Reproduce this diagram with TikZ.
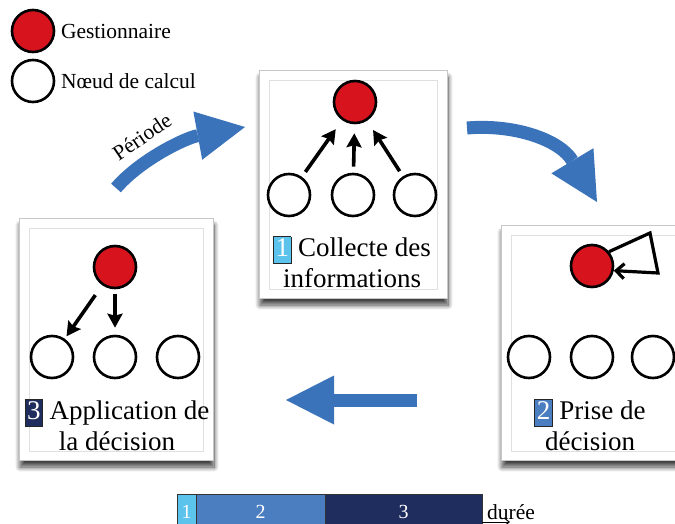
\documentclass[tikz,border=0pt]{standalone}
\usepackage{fontspec}
\setmainfont{Liberation Serif}
\usetikzlibrary{arrows.meta,positioning,calc,shadows.blur}
\definecolor{CycleBlue}{HTML}{3A73B9}
\definecolor{GestRed}{HTML}{D7141E}
\definecolor{PhaseA}{HTML}{5BC3EC}
\definecolor{PhaseB}{HTML}{4B7DC1}
\definecolor{PhaseC}{HTML}{1F2C5E}
\setlength{\fboxsep}{1.5pt}
\setlength{\fboxrule}{0.8pt}
\newcommand{\phasebox}[2]{\fcolorbox{black!85}{#1}{\rule[-5.5pt]{0pt}{21pt}\textcolor{white}{#2}}}

\begin{document}
\begin{tikzpicture}[x=1pt,y=-1pt,
  gest/.style={circle,draw=black,fill=GestRed,line width=2.6pt,minimum size=42pt,inner sep=0pt},
  calcul/.style={circle,draw=black,fill=white,line width=2.6pt,minimum size=42pt,inner sep=0pt},
  carte/.style={rectangle,fill=white,draw=black!22,line width=.6pt,
    blur shadow={shadow xshift=1pt,shadow yshift=-7pt,shadow blur steps=10,
      shadow blur radius=5pt,shadow opacity=75}},
  filet/.style={draw=black!12,line width=.5pt},
  envoi/.style={line width=3.6pt,-{Stealth[length=14pt,width=15pt,inset=2pt]}},
  tour/.style={draw=CycleBlue,line width=13pt,-{Triangle[length=48pt,width=49pt,line width=0pt]}},
  texte/.style={align=center,inner sep=0pt,font=\fontsize{27}{31}\selectfont},
  legende/.style={inner sep=0pt,font=\fontsize{21.5}{24}\selectfont},
  phase/.style={draw=black!80,line width=1pt,minimum height=36pt,inner sep=0pt,outer sep=0pt,
    text=white,font=\fontsize{20}{22}\selectfont}]
  \useasboundingbox (0,0) rectangle (675,524);
  \clip (0,0) rectangle (675,524);

  % legend
  \node[gest] (lg) at (33,31) {};
  \node[calcul] (lc) at (33,81) {};
  \node[legende,right=5.5pt of lg] (lgt) {Gestionnaire};
  \node[legende,right=5.5pt of lc] (lct) {Nœud de calcul};

  % cards
  \node[carte,minimum width=188pt,minimum height=228pt] (k1) at (353,184) {};
  \node[carte,minimum width=189pt,minimum height=235pt] (k2) at (595.5,342.5) {};
  \node[carte,minimum width=194pt,minimum height=242pt] (k3) at (116,339) {};
  \foreach \k in {k1,k2,k3}
    \draw[filet] ($(\k.north west)+(11,11)$) rectangle ($(\k.south east)+(-10,-9)$);

  % 1: collecte
  \node[gest] (g1) at (355,102) {};
  \foreach \x/\n in {289/a,353/b,415/c}
    \node[calcul] (c1\n) at (\x,195) {};
  \draw[envoi,shorten <=6pt,shorten >=11pt] (c1a) -- (g1);
  \draw[envoi,shorten <=6pt,shorten >=9pt] (c1b) -- (g1);
  \draw[envoi,shorten <=6pt,shorten >=11pt] (c1c) -- (g1);
  \node[texte,anchor=north] (l1) at (352,236) {\phasebox{PhaseA}{1} Collecte des\\informations};

  % 2: decision
  \node[gest] (g2) at (592,266) {};
  \foreach \x/\n in {529/a,592/b,653/c}
    \node[calcul] (c2\n) at (\x,357) {};
  \coordinate (bo1) at (650,233);
  \coordinate (bo2) at (658,273);
  \draw[line width=3.2pt,line join=miter,-{Straight Barb[length=8pt,width=15pt]}]
    (g2.40) -- (bo1) -- (bo2) -- (g2.-12);
  \node[texte,anchor=north] (l2) at (590,399) {\phasebox{PhaseB}{2} Prise de\\décision};

  % 3: application
  \node[gest] (g3) at (115,267) {};
  \foreach \x/\n in {52/a,115/b,178/c}
    \node[calcul] (c3\n) at (\x,357) {};
  \draw[envoi,shorten <=12pt,shorten >=3pt] (g3) -- (c3a);
  \draw[envoi,shorten <=5pt,shorten >=7pt] (g3) -- (c3b);
  \node[texte,anchor=north] (l3) at (117,399) {\phasebox{PhaseC}{3} Application de\\la décision};

  % cycle arrows
  \coordinate (t0) at (116,188);
  \coordinate (t1) at (245,127);
  \draw[tour] (t0) .. controls (140,160) and (185,138) .. (t1);
  \node[legende,rotate=34,anchor=base] (per) at (146,143) {Période};
  \coordinate (t2) at (467,128);
  \coordinate (t3) at (597,202);
  \draw[tour] (t2) .. controls (515,124) and (560,140) .. (t3);
  \coordinate (t4) at (417,400);
  \coordinate (t5) at (286,400);
  \draw[tour] (t4) -- (t5);

  % time bar
  \node[phase,fill=PhaseA,minimum width=19pt] (p1) at (186.5,512) {1};
  \node[phase,fill=PhaseB,minimum width=129pt,right=0pt of p1] (p2) {2};
  \node[phase,fill=PhaseC,minimum width=157pt,right=0pt of p2] (p3) {3};
  \coordinate (ax1) at (510,522);
  \draw[line width=1pt,-{Straight Barb[length=5pt,width=8pt]}] (p3.east |- ax1) -- (ax1);
  \node[legende,right=5pt of p3] (dur) {durée};
\end{tikzpicture}
\end{document}
